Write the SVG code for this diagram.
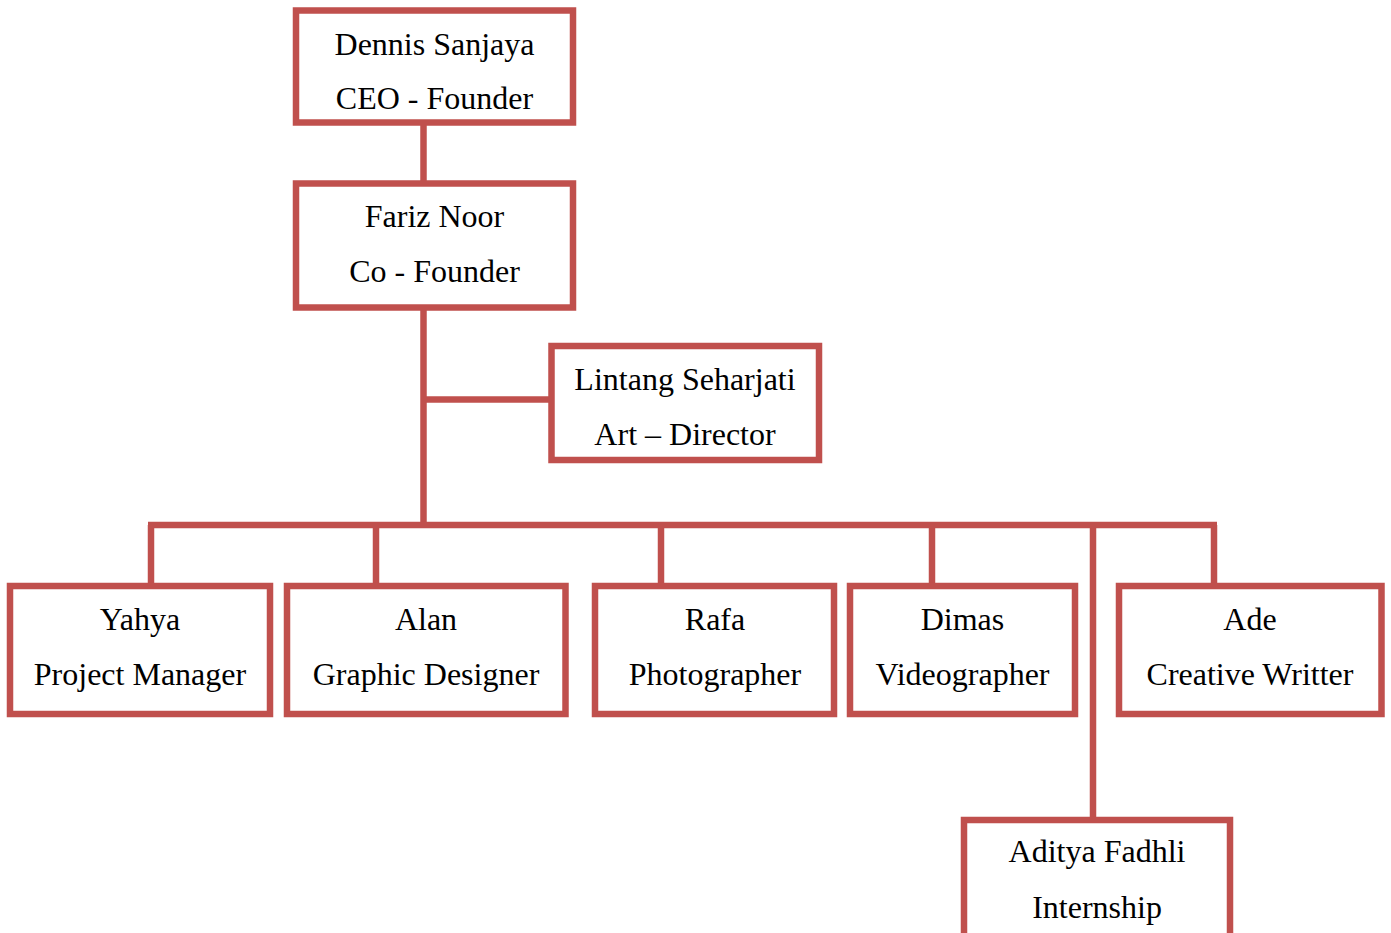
<svg xmlns="http://www.w3.org/2000/svg" width="1391" height="933" viewBox="0 0 1391 933">
<style>
.box{fill:#fff;stroke:#C0504D;stroke-width:6.5}
.ln{fill:none;stroke:#C0504D;stroke-width:6.5}
text{font-family:"Liberation Serif","Times New Roman",serif;font-size:32px;fill:#000;text-anchor:middle}
</style>
<rect width="1391" height="933" fill="#fff"/>
<g id="connectors">
<line class="ln" x1="423.5" y1="122" x2="423.5" y2="184"/>
<line class="ln" x1="423.5" y1="307" x2="423.5" y2="528"/>
<line class="ln" x1="423.5" y1="399.5" x2="552" y2="399.5"/>
<line class="ln" x1="148" y1="525" x2="1217" y2="525"/>
<line class="ln" x1="151" y1="525" x2="151" y2="586"/>
<line class="ln" x1="376" y1="525" x2="376" y2="586"/>
<line class="ln" x1="661" y1="525" x2="661" y2="586"/>
<line class="ln" x1="932" y1="525" x2="932" y2="586"/>
<line class="ln" x1="1214" y1="525" x2="1214" y2="586"/>
<line class="ln" x1="1093" y1="525" x2="1093" y2="820"/>
</g>
<g id="n-dennis">
<rect class="box" x="296" y="10.5" width="277" height="112"/>
<text x="434.5" y="54.5">Dennis Sanjaya</text>
<text x="434.5" y="109">CEO - Founder</text>
</g>
<g id="n-fariz">
<rect class="box" x="296" y="183.5" width="277" height="124"/>
<text x="434.5" y="227">Fariz Noor</text>
<text x="434.5" y="282">Co - Founder</text>
</g>
<g id="n-lintang">
<rect class="box" x="551.5" y="346" width="267.5" height="114"/>
<text x="685" y="390">Lintang Seharjati</text>
<text x="685" y="445">Art – Director</text>
</g>
<g id="n-yahya">
<rect class="box" x="10" y="586" width="260" height="128"/>
<text x="140" y="630">Yahya</text>
<text x="140" y="685">Project Manager</text>
</g>
<g id="n-alan">
<rect class="box" x="287" y="586" width="278.5" height="128"/>
<text x="426" y="630">Alan</text>
<text x="426" y="685">Graphic Designer</text>
</g>
<g id="n-rafa">
<rect class="box" x="595" y="586" width="239" height="128"/>
<text x="715" y="630">Rafa</text>
<text x="715" y="685">Photographer</text>
</g>
<g id="n-dimas">
<rect class="box" x="850" y="586" width="225" height="128"/>
<text x="962.5" y="630">Dimas</text>
<text x="962.5" y="685">Videographer</text>
</g>
<g id="n-ade">
<rect class="box" x="1119" y="586" width="262.5" height="128"/>
<text x="1250" y="630">Ade</text>
<text x="1250" y="685">Creative Writter</text>
</g>
<g id="n-aditya">
<rect class="box" x="964" y="820" width="266" height="140"/>
<text x="1097" y="862">Aditya Fadhli</text>
<text x="1097" y="918">Internship</text>
</g>
</svg>
